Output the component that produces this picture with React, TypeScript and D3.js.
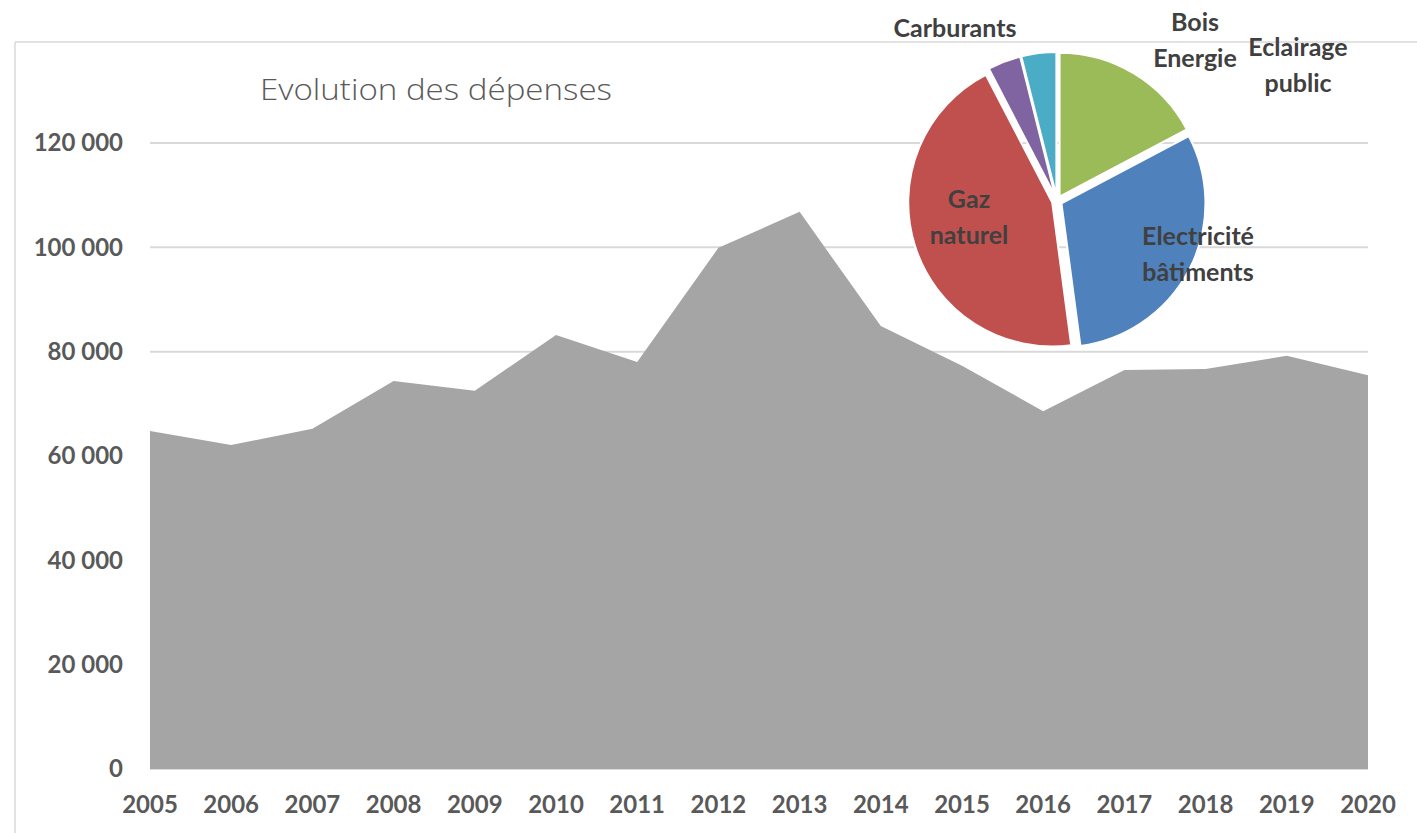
import React from "react";
import * as d3 from "d3";

const years = ["2005","2006","2007","2008","2009","2010","2011","2012","2013","2014","2015","2016","2017","2018","2019","2020"];
const depenses = [64800, 62100, 65200, 74400, 72500, 83200, 78000, 99900, 106800, 84900, 77300, 68600, 76500, 76700, 79200, 75500];
const yTicks = [0, 20000, 40000, 60000, 80000, 100000, 120000];

const pieNames = ["Eclairage public", "Electricité bâtiments", "Gaz naturel", "Carburants", "Bois Energie"];
const pieValues = [17.2, 30.5, 44.3, 3.7, 3.9];
const pieColors = ["#9bbb59", "#4f81bd", "#c0504d", "#8064a2", "#4bacc6"];

const W = 1417, H = 833;

export default function App() {
  const x = d3.scalePoint<string>().domain(years).range([150, 1368]);
  const y = d3.scaleLinear().domain([0, 120000]).range([769, 143]);
  const area = d3.area<number>()
    .x((_, i) => x(years[i]) as number)
    .y0(y(0))
    .y1((d) => y(d));
  const fmt = (v: number) => d3.format(",")(v).replace(/,/g, " ");

  const pcx = 1057, pcy = 201, pr = 144, explode = 5;
  const arcs = d3.pie<number>().sort(null).startAngle(0).endAngle(2 * Math.PI)(pieValues);
  const arcGen = d3.arc<d3.PieArcDatum<number>>().innerRadius(0).outerRadius(pr);

  const font = "Lato, 'Open Sans', sans-serif";
  const labelStyle = { fontFamily: font, fontWeight: 700, fontSize: 25, fill: "#404040" } as const;

  // label positions: centre of first line
  const pieLabels: { lines: string[]; x: number; y: number }[] = [
    { lines: ["Eclairage", "public"], x: 1298, y: 47 },
    { lines: ["Electricité", "bâtiments"], x: 1198, y: 236 },
    { lines: ["Gaz", "naturel"], x: 969, y: 199 },
    { lines: ["Carburants"], x: 955, y: 28 },
    { lines: ["Bois", "Energie"], x: 1195, y: 22 },
  ];

  return (
    <svg width={W} height={H} style={{ position: "absolute", left: 0, top: 0, background: "#fff" }}>
      <rect x={0} y={0} width={W} height={H} fill="#fff" />
      {/* chart border */}
      <line x1={15} y1={42} x2={W} y2={42} stroke="#d9d9d9" strokeWidth={1.5} />
      <line x1={15} y1={42} x2={15} y2={H} stroke="#d9d9d9" strokeWidth={1.5} />

      <text x={260} y={100} textLength={352} lengthAdjust="spacingAndGlyphs"
        style={{ fontFamily: "'Open Sans', Lato, sans-serif", fontWeight: 300, fontSize: 29, fill: "#595959" }}>
        Evolution des dépenses
      </text>

      {/* gridlines */}
      {yTicks.map((t) => (
        <line key={t} x1={150} x2={1368} y1={y(t)} y2={y(t)} stroke="#d9d9d9" strokeWidth={2} />
      ))}
      {/* area */}
      <path d={area(depenses) || ""} fill="#a5a5a5" />

      {/* y labels */}
      {yTicks.map((t) => (
        <text key={t} x={123} y={y(t)} dy="0.35em" textAnchor="end"
          style={{ fontFamily: font, fontWeight: 700, fontSize: 24, fill: "#595959" }}>
          {fmt(t)}
        </text>
      ))}
      {/* x labels */}
      {years.map((yr) => (
        <text key={yr} x={x(yr)} y={805} dy="0.35em" textAnchor="middle"
          style={{ fontFamily: font, fontWeight: 700, fontSize: 24, fill: "#595959" }}>
          {yr}
        </text>
      ))}

      {/* pie */}
      <g transform={`translate(${pcx},${pcy})`}>
        {arcs.map((a, i) => {
          const mid = (a.startAngle + a.endAngle) / 2;
          const dx = Math.sin(mid) * explode, dy = -Math.cos(mid) * explode;
          return (
            <path key={pieNames[i]} d={arcGen(a) || ""} transform={`translate(${dx},${dy})`}
              fill={pieColors[i]} stroke="#fff" strokeWidth={2} strokeLinejoin="round" />
          );
        })}
      </g>
      {pieLabels.map((l, i) => (
        <text key={pieNames[i]} x={l.x} y={l.y} textAnchor="middle" style={labelStyle}>
          {l.lines.map((ln, j) => (
            <tspan key={j} x={l.x} dy={j === 0 ? "0.35em" : 36}>{ln}</tspan>
          ))}
        </text>
      ))}
    </svg>
  );
}
